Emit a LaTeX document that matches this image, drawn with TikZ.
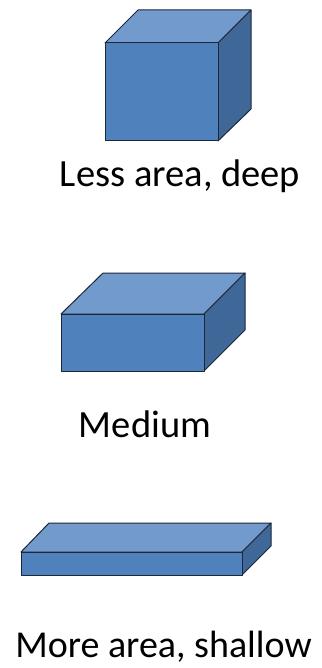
\documentclass[tikz,border=0pt]{standalone}
\usepackage{fontspec}
\setmainfont{Carlito}
\usepackage{tikz}
\usetikzlibrary{positioning, calc}
\definecolor{boxfront}{HTML}{4F81BD}
\definecolor{boxtop}{HTML}{729ACC}
\definecolor{boxside}{HTML}{3F6898}
\definecolor{boxline}{HTML}{1C2838}

\begin{document}
\begin{tikzpicture}[
    x=1pt, y=-1pt,
    front/.style={draw=boxline, line width=1pt, line join=round, fill=boxfront},
    top/.style={draw=boxline, line width=1pt, line join=round, fill=boxtop},
    side/.style={draw=boxline, line width=1pt, line join=round, fill=boxside},
    caption/.style={anchor=base, font=\fontsize{38.5}{44}\selectfont, inner sep=0pt}
]
    \useasboundingbox (0,0) rectangle (321,668);

    % deep box
    \draw[top] (105,43) -- (138,10) -- (251,10) -- (218,43) -- cycle;
    \draw[side] (218,43) -- (251,10) -- (251,109) -- (218,141) -- cycle;
    \draw[front] (105,43) rectangle (218,141);
    \node[caption] (deep) at (180,187) {Less area, deep};

    % medium box
    \draw[top] (61,314) -- (103,273) -- (245,273) -- (204,314) -- cycle;
    \draw[side] (204,314) -- (245,273) -- (245,330) -- (204,371) -- cycle;
    \draw[front] (61,314) rectangle (204,371);
    \node[caption] (medium) at (145,437) {Medium};

    % shallow box
    \draw[top] (21,552) -- (49,523) -- (271,523) -- (242,552) -- cycle;
    \draw[side] (242,552) -- (271,523) -- (271,546) -- (242,575) -- cycle;
    \draw[front] (21,552) rectangle (242,575);
    \node[caption, font=\fontsize{38}{44}\selectfont] (shallow) at (163.5,657) {More area, shallow};
\end{tikzpicture}
\end{document}
